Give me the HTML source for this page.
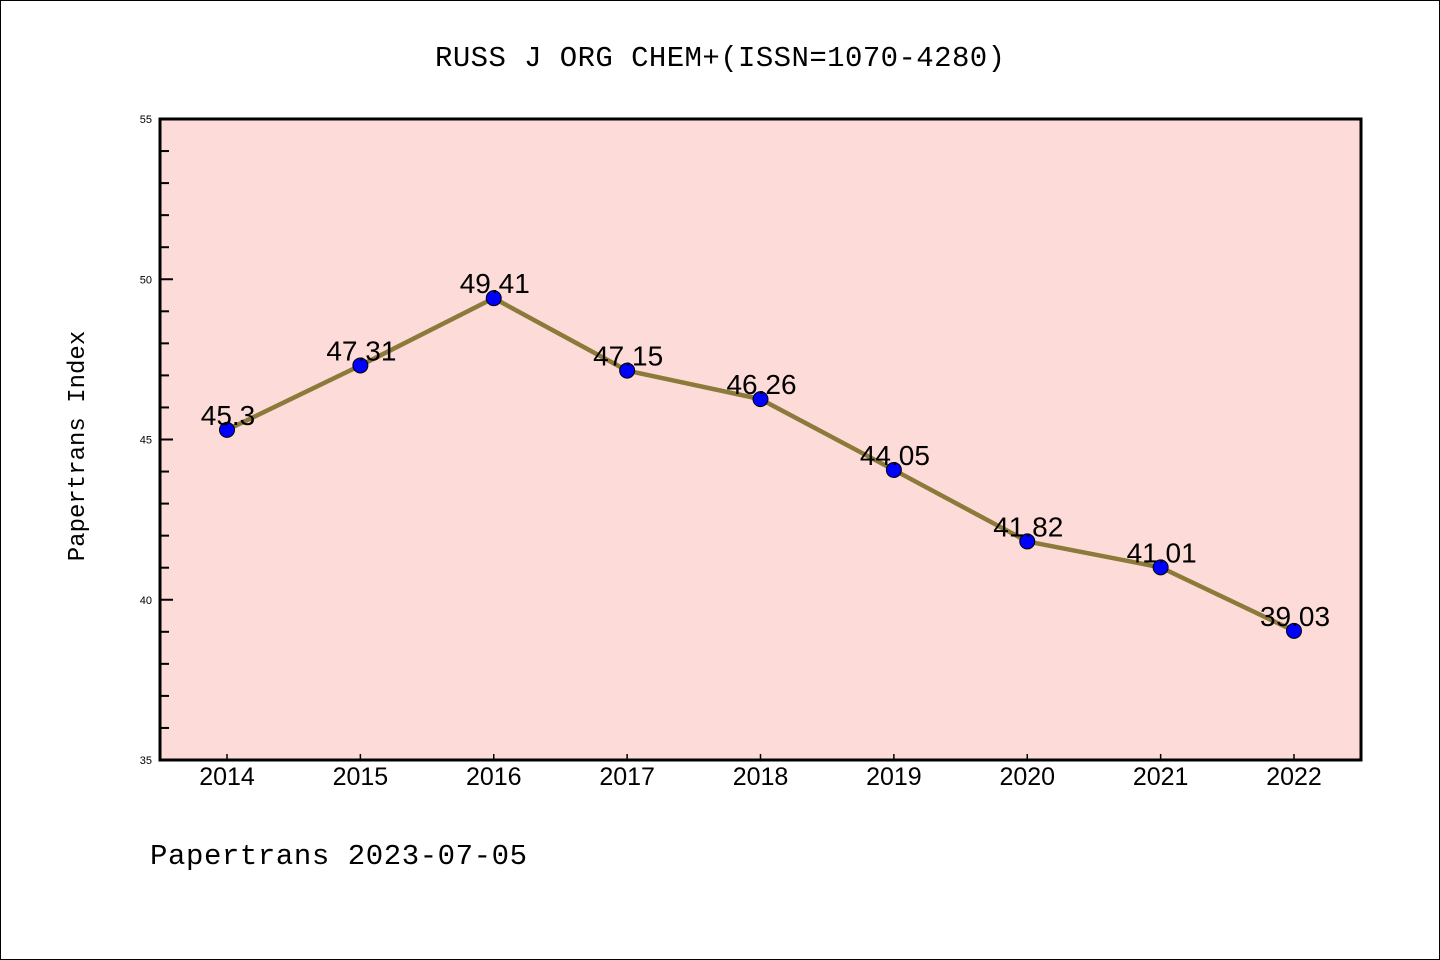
<!DOCTYPE html>
<html><head><meta charset="utf-8"><style>
html,body{margin:0;padding:0;background:#fff}
svg{display:block}
text{font-family:"Liberation Sans","Noto Sans CJK SC",sans-serif}
</style></head><body>
<svg id="chart" width="1440" height="960" xmlns="http://www.w3.org/2000/svg">
<rect x="0.5" y="0.5" width="1439" height="959" fill="#fff" stroke="#000"/>
<text x="720" y="66" text-anchor="middle" font-size="29" textLength="570" style="font-family:'Liberation Mono','Noto Sans CJK SC',monospace">RUSS J ORG CHEM+(ISSN=1070-4280)</text>
<rect x="160" y="119" width="1201" height="641" fill="#fddbd8"/>
<g id="axes"></g>
<g id="series"></g>
<rect x="160" y="119" width="1201" height="641" fill="none" stroke="#000" stroke-width="3"/>
<text transform="translate(84,446) rotate(-90)" text-anchor="middle" font-size="24" style="font-family:'Liberation Mono',monospace">Papertrans Index</text>
<text x="150" y="864" font-size="29" textLength="377" style="font-family:'Liberation Mono',monospace">Papertrans 2023-07-05</text>
</svg>
<script>
const years = ["2014","2015","2016","2017","2018","2019","2020","2021","2022"];
const values = [45.3,47.31,49.41,47.15,46.26,44.05,41.82,41.01,39.03];
const valueLabels = ["45.3","47.31","49.41","47.15","46.26","44.05","41.82","41.01","39.03"];
const yTicks = [35,40,45,50,55];
const yMin = 35, yMax = 55;
const NS = "http://www.w3.org/2000/svg";
const L=160,R=1361,T=119,B=760;
function x(i){return 227 + i*(1294-227)/(years.length-1);}
function y(v){return B - (v-yMin)/(yMax-yMin)*(B-T);}
function mk(tag,attrs,parent){const e=document.createElementNS(NS,tag);for(const k in attrs)e.setAttribute(k,attrs[k]);parent.appendChild(e);return e;}
const axes=document.getElementById('axes');
for(let v=yMin; v<=yMax; v++){
  const major = yTicks.includes(v);
  const t=mk('line',{x1:L,x2:L+(major?13:9),y1:y(v),y2:y(v),stroke:'#000','stroke-width':2},axes);
  
  
}
yTicks.forEach(v=>{
  const t=mk('text',{x:L-8,y:y(v)+4,'text-anchor':'end','font-size':11},axes);
  t.textContent=v;
  
  
});
years.forEach((yr,i)=>{
  const t=mk('line',{x1:x(i),x2:x(i),y1:B,y2:B-6,stroke:'#000','stroke-width':1.5},axes);
  
  
  const l=mk('text',{x:x(i),y:785,'text-anchor':'middle','font-size':25},axes);
  l.textContent=yr;
  
  
});
const s=document.getElementById('series');
const pts=values.map((v,i)=>x(i)+','+y(v)).join(' ');
const pl=mk('polyline',{points:pts,fill:'none',stroke:'#8c7a3a','stroke-width':4.5,'stroke-linejoin':'round'},s);


values.forEach((v,i)=>{
  const c=mk('circle',{cx:x(i),cy:y(v),r:7.5,fill:'#0000ff',stroke:'#000','stroke-width':1},s);
  
  
  const t=mk('text',{x:x(i)+1,y:y(v)-5,'text-anchor':'middle','font-size':28},s);
  t.textContent=valueLabels[i];
  
  
});
</script>
</body></html>
